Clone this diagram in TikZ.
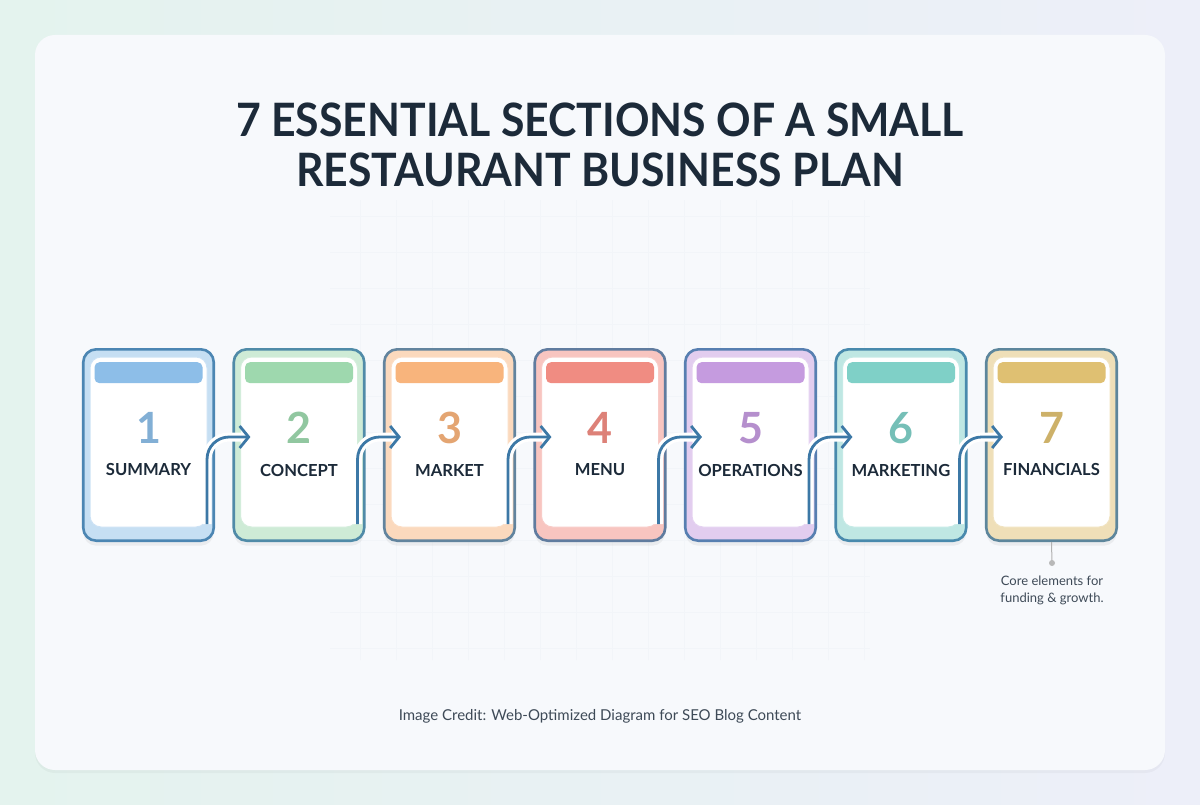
\documentclass[tikz,border=0pt]{standalone}
\usepackage{fontspec}
\setmainfont{Lato}
\usepackage{xcolor}
\usetikzlibrary{arrows.meta,positioning,shadows}

\definecolor{ink}{HTML}{1C2A39}
\definecolor{frame}{HTML}{3C78A6}
\definecolor{bgl}{HTML}{E4F3EE}
\definecolor{bgr}{HTML}{EDEFF9}
\definecolor{panelc}{HTML}{F7F9FC}
\definecolor{csummary}{HTML}{8DBEE8}
\definecolor{cconcept}{HTML}{9ED8AE}
\definecolor{cmarket}{HTML}{F8B47C}
\definecolor{cmenu}{HTML}{F08C82}
\definecolor{coperations}{HTML}{C59BDF}
\definecolor{cmarketing}{HTML}{7FD0C7}
\definecolor{cfinancials}{HTML}{DFC072}

\begin{document}
\begin{tikzpicture}[
  x=1pt,y=-1pt,
  card/.style={
    rectangle,rounded corners=13pt,draw=frame!80!#1,line width=2.6pt,
    fill=#1!50,minimum width=130.5pt,minimum height=191.4pt,
    drop shadow={opacity=0.10,shadow xshift=0pt,shadow yshift=-5pt}
  },
  sheet/.style={
    rectangle,rounded corners=11pt,draw=#1!45,line width=1pt,fill=white,
    minimum width=117pt,minimum height=170pt
  },
  header/.style={rectangle,rounded corners=5pt,fill=#1,minimum width=108pt,minimum height=21pt,inner sep=0pt},
  num/.style={text=#1!92!black,font=\fontsize{43}{43}\selectfont\bfseries,inner sep=0pt},
  sectname/.style={text=ink,font=\fontsize{16.6}{18}\selectfont\bfseries,inner sep=0pt},
  title/.style={align=center,text=ink,font=\fontsize{46}{50}\selectfont\bfseries},
  note/.style={align=center,text=ink!85,font=\fontsize{13}{17}\selectfont},
  credit/.style={text=ink!85,font=\fontsize{15}{18}\selectfont},
  gridline/.style={draw=frame!12,line width=0.6pt,opacity=0.3},
  leader/.style={draw=black!30,line width=1pt},
  flow/.style={
    -{Straight Barb[length=9pt,width=22pt]},line width=2.8pt,draw=frame,
    rounded corners=22pt,preaction={draw=white,line width=9pt,-}
  }
]
\useasboundingbox (0,0) rectangle (1200,805);

% background and panel
\fill[left color=bgl,right color=bgr] (0,0) rectangle (1200,805);
\fill[black,opacity=0.03,rounded corners=20pt] (35,38) rectangle (1165,773);
\fill[panelc,rounded corners=20pt] (35,35) rectangle (1165,770);
\draw[gridline,step=36pt] (330,200) grid (870,660);

\node[title] (title) at (600,145) {\scalebox{0.93}[1]{7 ESSENTIAL SECTIONS OF A SMALL}\\\scalebox{0.93}[1]{RESTAURANT BUSINESS PLAN}};

% cards
\node[card=csummary] (card1) at (148.5,445) {};
\node[sheet=csummary] (sheet1) at ([yshift=3pt]card1.center) {};
\node[header=csummary,below=14pt of card1.north] (head1) {};
\node[num=csummary,below=64pt of card1.north] (num1) {1};
\node[sectname,below=20pt of num1] (name1) {SUMMARY};

\node[card=cconcept,right=17.4pt of card1] (card2) {};
\node[sheet=cconcept] (sheet2) at ([yshift=3pt]card2.center) {};
\node[header=cconcept,below=14pt of card2.north] (head2) {};
\node[num=cconcept,below=64pt of card2.north] (num2) {2};
\node[sectname,below=20pt of num2] (name2) {CONCEPT};

\node[card=cmarket,right=17.4pt of card2] (card3) {};
\node[sheet=cmarket] (sheet3) at ([yshift=3pt]card3.center) {};
\node[header=cmarket,below=14pt of card3.north] (head3) {};
\node[num=cmarket,below=64pt of card3.north] (num3) {3};
\node[sectname,below=20pt of num3] (name3) {MARKET};

\node[card=cmenu,right=17.4pt of card3] (card4) {};
\node[sheet=cmenu] (sheet4) at ([yshift=3pt]card4.center) {};
\node[header=cmenu,below=14pt of card4.north] (head4) {};
\node[num=cmenu,below=64pt of card4.north] (num4) {4};
\node[sectname,below=20pt of num4] (name4) {MENU};

\node[card=coperations,right=17.4pt of card4] (card5) {};
\node[sheet=coperations] (sheet5) at ([yshift=3pt]card5.center) {};
\node[header=coperations,below=14pt of card5.north] (head5) {};
\node[num=coperations,below=64pt of card5.north] (num5) {5};
\node[sectname,below=20pt of num5] (name5) {OPERATIONS};

\node[card=cmarketing,right=17.4pt of card5] (card6) {};
\node[sheet=cmarketing] (sheet6) at ([yshift=3pt]card6.center) {};
\node[header=cmarketing,below=14pt of card6.north] (head6) {};
\node[num=cmarketing,below=64pt of card6.north] (num6) {6};
\node[sectname,below=20pt of num6] (name6) {MARKETING};

\node[card=cfinancials,right=17.4pt of card6] (card7) {};
\node[sheet=cfinancials] (sheet7) at ([yshift=3pt]card7.center) {};
\node[header=cfinancials,below=14pt of card7.north] (head7) {};
\node[num=cfinancials,below=64pt of card7.north] (num7) {7};
\node[sectname,below=20pt of num7] (name7) {FINANCIALS};

% arrows between cards
\draw[flow] ([xshift=-8pt,yshift=18pt]card1.south east) |- ([xshift=18pt,yshift=8pt]card2.west);
\draw[flow] ([xshift=-8pt,yshift=18pt]card2.south east) |- ([xshift=18pt,yshift=8pt]card3.west);
\draw[flow] ([xshift=-8pt,yshift=18pt]card3.south east) |- ([xshift=18pt,yshift=8pt]card4.west);
\draw[flow] ([xshift=-8pt,yshift=18pt]card4.south east) |- ([xshift=18pt,yshift=8pt]card5.west);
\draw[flow] ([xshift=-8pt,yshift=18pt]card5.south east) |- ([xshift=18pt,yshift=8pt]card6.west);
\draw[flow] ([xshift=-8pt,yshift=18pt]card6.south east) |- ([xshift=18pt,yshift=8pt]card7.west);

% note
\coordinate (notedot) at (1052,563);
\draw[leader] (card7.south) -- (notedot);
\fill[black!28] (notedot) circle (3pt);
\node[note] (note) at (1052,590) {Core elements for\\funding \& growth.};

\node[credit] (credit) at (600,716) {Image Credit: Web-Optimized Diagram for SEO Blog Content};

\end{tikzpicture}
\end{document}
